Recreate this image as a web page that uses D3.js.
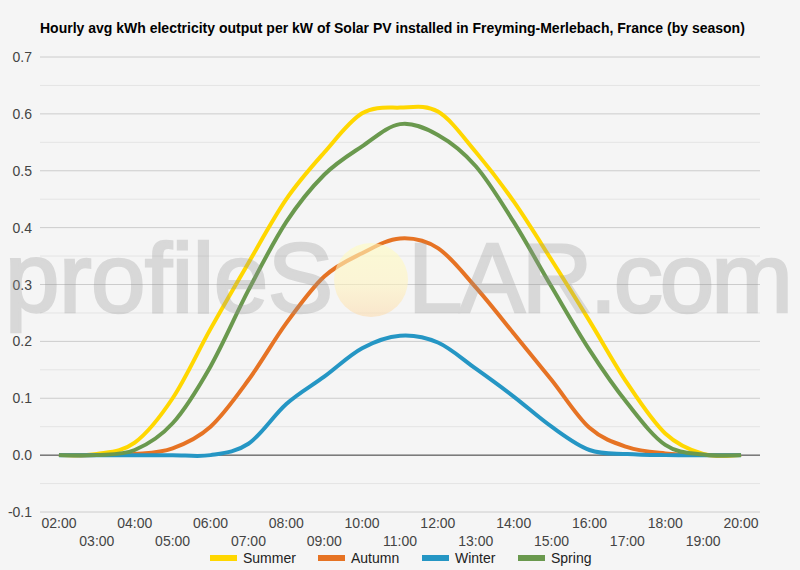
<!DOCTYPE html>
<html>
<head>
<meta charset="utf-8">
<script src="https://cdn.jsdelivr.net/npm/d3@7"></script>
<style>
    body { margin: 0; background: #f5f5f5; }
    svg { display: block; font-family: "Liberation Sans", Arial, sans-serif; }
</style>
</head>
<body>
<div id="chart"></div>
<script>
// ########################## Data ##########################
const hours = ["02:00", "03:00", "04:00", "05:00", "06:00", "07:00", "08:00", "09:00", "10:00", "11:00",
    "12:00", "13:00", "14:00", "15:00", "16:00", "17:00", "18:00", "19:00", "20:00"];
const seasons = ["Summer", "Autumn", "Winter", "Spring"];
const summer = [0, 0.002, 0.022, 0.1, 0.222, 0.338, 0.45, 0.532, 0.601, 0.611, 0.604, 0.533, 0.446, 0.343, 0.236, 0.126, 0.038, 0.002, 0];
const autumn = [0, 0, 0.002, 0.012, 0.05, 0.132, 0.232, 0.314, 0.355, 0.381, 0.364, 0.295, 0.214, 0.132, 0.048, 0.014, 0.003, 0, 0];
const winter = [0, 0, 0, 0, 0, 0.02, 0.09, 0.138, 0.188, 0.21, 0.198, 0.152, 0.103, 0.05, 0.009, 0.002, 0, 0, 0];
const spring = [0, 0, 0.009, 0.056, 0.156, 0.29, 0.41, 0.493, 0.543, 0.582, 0.563, 0.508, 0.41, 0.296, 0.185, 0.091, 0.018, 0.001, 0];
const yTicks = [-0.1, 0, 0.1, 0.2, 0.3, 0.4, 0.5, 0.6, 0.7];
const seasonColors = ["#ffd700", "#e67324", "#2596c4", "#6a994e"];

const seriesValues = { Summer: summer, Autumn: autumn, Winter: winter, Spring: spring };
// ########################## Data ##########################

const W = 800, H = 570;
const margin = { top: 57, right: 40, bottom: 58, left: 40 };
const width = W - margin.left - margin.right;
const height = H - margin.top - margin.bottom;

const svg = d3.select("#chart").append("svg")
    .attr("width", W)
    .attr("height", H);

svg.append("rect").attr("width", W).attr("height", H).attr("fill", "#f5f5f5");

const g = svg.append("g")
    .attr("transform", `translate(${margin.left},${margin.top})`);

const xScale = d3.scalePoint()
    .domain(hours)
    .range([0, width])
    .padding(0.5);

const yScale = d3.scaleLinear()
    .domain([-0.1, 0.7])
    .range([height, 0]);

const colors = d3.scaleOrdinal().domain(seasons).range(seasonColors);

// minor gridlines every 0.05
const minor = d3.range(-0.1, 0.7, 0.1).map(v => v + 0.05);
g.selectAll(".minor").data(minor).enter().append("line")
    .attr("x1", 0).attr("x2", width)
    .attr("y1", d => yScale(d)).attr("y2", d => yScale(d))
    .attr("stroke", "#e4e4e4").attr("stroke-width", 1);

// major gridlines
g.selectAll(".major").data(yTicks).enter().append("line")
    .attr("x1", 0).attr("x2", width)
    .attr("y1", d => yScale(d)).attr("y2", d => yScale(d))
    .attr("stroke", d => d === 0 ? "#333" : "#cccccc")
    .attr("stroke-width", 1);

// y axis labels
g.selectAll(".ylab").data(yTicks).enter().append("text")
    .attr("x", -8)
    .attr("y", d => yScale(d) + 5)
    .attr("text-anchor", "end")
    .style("font-size", "14px")
    .attr("fill", "#444")
    .text(d => d.toFixed(1));

// x axis labels, alternating rows
g.selectAll(".xlab").data(hours).enter().append("text")
    .attr("x", d => xScale(d))
    .attr("y", (d, i) => height + (i % 2 === 0 ? 16 : 34))
    .attr("text-anchor", "middle")
    .style("font-size", "14px")
    .attr("fill", "#444")
    .text(d => d);

// lines
const line = d3.line()
    .x((d, i) => xScale(hours[i]))
    .y(d => yScale(d))
    .curve(d3.curveCatmullRom.alpha(0));

seasons.forEach(s => {
    g.append("path")
        .datum(seriesValues[s])
        .attr("fill", "none")
        .attr("stroke", colors(s))
        .attr("stroke-width", 4)
        .attr("stroke-linejoin", "round")
        .attr("d", line);
});

// watermark
const defs = svg.append("defs");
const grad = defs.append("linearGradient").attr("id", "sun")
    .attr("x1", 0).attr("y1", 0).attr("x2", 0).attr("y2", 1);
grad.append("stop").attr("offset", "0%").attr("stop-color", "#fffcc0");
grad.append("stop").attr("offset", "55%").attr("stop-color", "#fff4c0");
grad.append("stop").attr("offset", "100%").attr("stop-color", "#fcdcb0");

svg.append("circle")
    .attr("cx", 371).attr("cy", 280).attr("r", 37)
    .attr("fill", "url(#sun)")
    .attr("opacity", 0.6);

[["profileS", 5, 328], ["LAR.com", 408, 385]].forEach(([txt, x, len]) => {
    svg.append("text")
        .attr("x", x).attr("y", 312)
        .attr("textLength", len)
        .style("font-size", "98px")
        .attr("fill", "#969696")
        .attr("stroke", "#969696")
        .attr("stroke-width", 2.5)
        .attr("opacity", 0.3)
        .text(txt);
});

// title
svg.append("text")
    .attr("x", 40).attr("y", 33)
    .style("font-size", "14px")
    .style("font-weight", "bold")
    .attr("fill", "#000")
    .text("Hourly avg kWh electricity output per kW of Solar PV installed in Freyming-Merlebach, France (by season)");

// legend
const legendX = [210, 318, 422, 518];
seasons.forEach((s, i) => {
    const row = svg.append("g").attr("transform", `translate(${legendX[i]}, 558)`);
    row.append("rect")
        .attr("x", 0).attr("y", -3)
        .attr("width", 27).attr("height", 6)
        .attr("fill", colors(s));
    row.append("text")
        .attr("x", 33).attr("y", 5)
        .style("font-size", "14px")
        .attr("fill", "#222")
        .text(s);
});
</script>
</body>
</html>
